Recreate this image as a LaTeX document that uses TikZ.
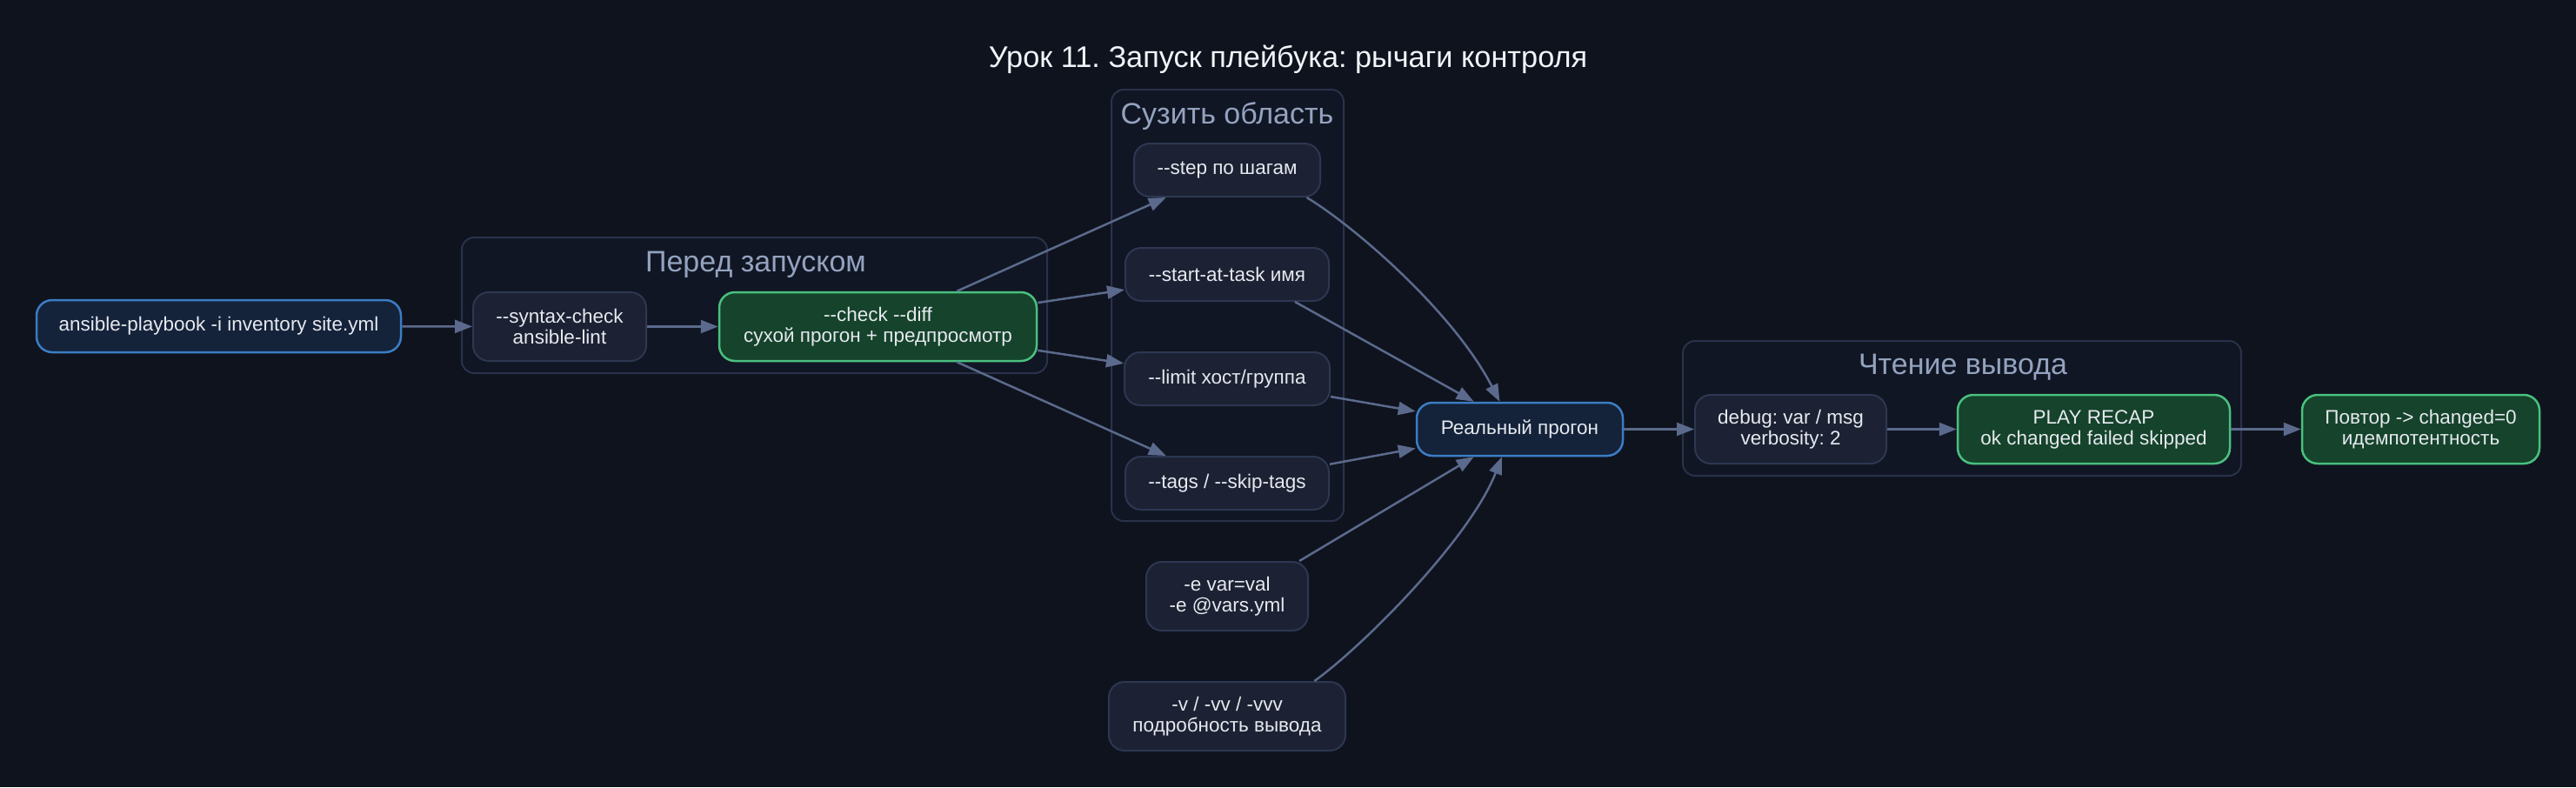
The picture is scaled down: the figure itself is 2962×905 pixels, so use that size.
\documentclass[tikz,border=0pt]{standalone}
\usepackage{fontspec}
\setmainfont{Liberation Sans}[Ligatures=TeXOff]
\usetikzlibrary{arrows.meta}
\definecolor{bg}{HTML}{0F131E}
\definecolor{nfill}{HTML}{1C2233}
\definecolor{ndraw}{HTML}{2D3751}
\definecolor{bfill}{HTML}{14233A}
\definecolor{bdraw}{HTML}{3B7DC4}
\definecolor{gfill}{HTML}{15432B}
\definecolor{gdraw}{HTML}{4AC07F}
\definecolor{cfill}{HTML}{111624}
\definecolor{cdraw}{HTML}{29324A}
\definecolor{ctext}{HTML}{94A3BF}
\definecolor{ntext}{HTML}{E6E9EF}
\definecolor{edge}{HTML}{5B6A8C}
\definecolor{ttext}{HTML}{F1F5F9}
\frenchspacing
\tikzset{
  base/.style={rounded corners=18pt, line width=2pt, draw=ndraw, fill=nfill, text=ntext, align=center, inner sep=0pt,
    font=\fontsize{22.5}{24}\selectfont},
  plain/.style={base},
  blue/.style={base, draw=bdraw, fill=bfill, line width=2.5pt},
  green/.style={base, draw=gdraw, fill=gfill, line width=2.5pt},
  cluster/.style={rounded corners=14pt, line width=2pt, draw=cdraw, fill=cfill},
  ctitle/.style={text=ctext, font=\fontsize{34}{38}\selectfont, inner sep=0pt, anchor=base},
  arr/.style={draw=edge, line width=2.5pt, -{Triangle[length=20pt,width=15pt]}},
}
\begin{document}
\begin{tikzpicture}[x=1pt,y=-1pt]
\fill[bg] (0,0) rectangle (2962,905);
\useasboundingbox (0,0) rectangle (2962,905);

\node[text=ttext, font=\fontsize{34.3}{38}\selectfont, inner sep=0pt, anchor=base] (title) at (1481,77) {Урок 11. Запуск плейбука: рычаги контроля};

% clusters
\draw[cluster] (531,273) rectangle (1204,429);
\node[ctitle] (t1) at (869,312) {Перед запуском};
\draw[cluster] (1278,103) rectangle (1545,599);
\node[ctitle] (t2) at (1411,142) {Сузить область};
\draw[cluster] (1935,392) rectangle (2577,547);
\node[ctitle] (t3) at (2257,430) {Чтение вывода};

% nodes
\node[blue, minimum width=419pt, minimum height=60pt] (ap) at (251.5,375) {ansible-playbook -i inventory site.yml};
\node[plain, minimum width=199pt, minimum height=79pt] (syn) at (643.5,375.5) {--syntax-check\\ansible-lint};
\node[green, minimum width=365pt, minimum height=79pt] (chk) at (1009.5,375.5) {--check --diff\\сухой прогон + предпросмотр};
\node[plain, minimum width=214pt, minimum height=61pt] (step) at (1411,195.5) {--step по шагам};
\node[plain, minimum width=234pt, minimum height=61pt] (start) at (1411,315.5) {--start-at-task имя};
\node[plain, minimum width=236pt, minimum height=61pt] (limit) at (1411,435.5) {--limit хост/группа};
\node[plain, minimum width=234pt, minimum height=61pt] (tags) at (1411,555.5) {--tags / --skip-tags};
\node[plain, minimum width=186pt, minimum height=79pt] (ev) at (1411,685.5) {-e var=val\\-e @vars.yml};
\node[plain, minimum width=272pt, minimum height=79pt] (vv) at (1411,823.5) {-v / -vv / -vvv\\подробность вывода};
\node[blue, minimum width=237pt, minimum height=61pt] (real) at (1747.5,493.5) {Реальный прогон};
\node[plain, minimum width=220pt, minimum height=79pt] (dbg) at (2059,493.5) {debug: var / msg\\verbosity: 2};
\node[green, minimum width=313pt, minimum height=79pt] (recap) at (2407.5,493.5) {PLAY RECAP\\ok changed failed skipped};
\node[green, minimum width=273pt, minimum height=79pt] (rep) at (2783.5,493.5) {Повтор -> changed=0\\идемпотентность};

% edges
\draw[arr] (ap) -- (syn);
\draw[arr] (syn) -- (chk);
\draw[arr] (chk) -- (step);
\draw[arr] (chk) -- (start);
\draw[arr] (chk) -- (limit);
\draw[arr] (chk) -- (tags);
\draw[arr] (step.-19) .. controls (1560,262) and (1672,360) .. (real.126);
\draw[arr] (start.-22) -- (real.149);
\draw[arr] (limit) -- (real);
\draw[arr] (tags) -- (real);
\draw[arr] (ev.26) -- (real.-149);
\draw[arr] (vv.22) .. controls (1565,745) and (1690,620) .. (real.-123);
\draw[arr] (real) -- (dbg);
\draw[arr] (dbg) -- (recap);
\draw[arr] (recap) -- (rep);
\end{tikzpicture}
\end{document}
